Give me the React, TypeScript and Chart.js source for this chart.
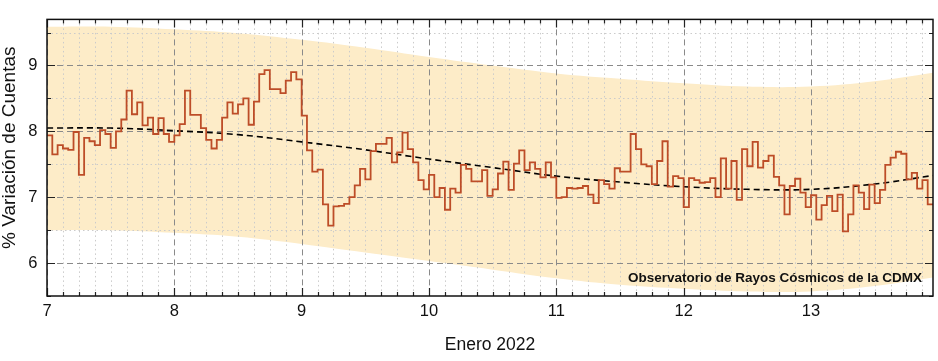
import React, { useEffect, useRef } from 'react';
import { Chart, registerables } from 'chart.js';

Chart.register(...registerables);

// Hourly % variation of counts, starting at 7 Jan 2022 00:00
const startDay = 7;
const hoursPerDay = 24;
const counts = [
  7.94, 7.65, 7.79, 7.74, 7.72, 7.99, 7.34, 7.90, 7.85, 7.79, 8.02, 7.96,
  7.75, 8.00, 8.18, 8.62, 8.26, 8.44, 8.09, 8.21, 7.96, 8.20, 7.96, 7.84,
  7.94, 8.11, 8.62, 8.25, 8.25, 8.05, 7.87, 7.74, 7.87, 8.21, 8.44, 8.27,
  8.41, 8.50, 8.10, 8.45, 8.87, 8.93, 8.64, 8.64, 8.58, 8.77, 8.90, 8.79,
  8.24, 7.71, 7.39, 7.42, 6.89, 6.57, 6.86, 6.87, 6.90, 7.00, 7.18, 7.43,
  7.27, 7.70, 7.81, 7.81, 7.90, 7.53, 7.68, 7.98, 7.73, 7.53, 7.26, 7.12,
  7.34, 7.00, 7.14, 6.81, 7.13, 7.07, 7.49, 7.43, 7.24, 7.24, 7.41, 7.02,
  7.12, 7.36, 7.54, 7.11, 7.51, 7.71, 7.41, 7.53, 7.43, 7.30, 7.53, 7.30,
  6.99, 7.00, 7.14, 7.13, 7.14, 7.17, 7.04, 6.91, 7.26, 7.20, 7.13, 7.44,
  7.39, 7.39, 7.96, 7.73, 7.50, 7.47, 7.20, 7.55, 7.85, 7.16, 7.32, 7.29,
  6.85, 7.29, 7.26, 7.22, 7.23, 7.29, 7.00, 7.59, 7.13, 7.55, 6.96, 7.73,
  7.47, 7.84, 7.45, 7.55, 7.63, 7.31, 7.18, 6.74, 7.17, 7.28, 7.07, 6.85,
  7.03, 6.66, 6.88, 7.02, 6.79, 7.04, 6.48, 6.74, 7.18, 7.07, 6.82, 7.19,
  6.91, 7.11, 7.49, 7.60, 7.69, 7.66, 7.27, 7.37, 7.13, 7.26, 6.89, 6.89,
];

// Smooth fit and its band
const curveDays = [7, 7.5, 8, 8.5, 9, 9.5, 10, 10.5, 11, 11.5, 12, 12.5, 13, 13.5, 13.958];
const fitValues = [8.05, 8.05, 8.01, 7.95, 7.84, 7.72, 7.58, 7.45, 7.32, 7.23, 7.16, 7.12, 7.12, 7.20, 7.33];
const bandUpper = [9.59, 9.59, 9.55, 9.49, 9.39, 9.27, 9.13, 9.00, 8.88, 8.80, 8.73, 8.68, 8.68, 8.76, 8.89];
const bandLower = [6.50, 6.50, 6.46, 6.40, 6.29, 6.16, 6.03, 5.90, 5.77, 5.67, 5.61, 5.57, 5.57, 5.65, 5.78];

const xTicks = [7, 8, 9, 10, 11, 12, 13];
const yTicks = [6, 7, 8, 9];
const xMinorStep = 0.125;
const yMinorStep = 0.5;

const xTitle = 'Enero 2022';
const yTitle = '% Variación de Cuentas';
const stationLabel = 'Observatorio de Rayos Cósmicos de la CDMX';

const FONT = '"Liberation Sans", Arial, Helvetica, sans-serif';

const isMajor = (v: number) => Math.abs(v - Math.round(v)) < 1e-6;

const framePlugin = {
  id: 'framePlugin',
  afterDatasetDraw(chart: any, args: any) {
    if (args.index !== 2) return;
    const { ctx, chartArea: a, scales } = chart;
    const x = scales.x;
    const y = scales.y;
    ctx.save();
    ctx.beginPath();
    ctx.rect(a.left, a.top, a.right - a.left, a.bottom - a.top);
    ctx.clip();
    ctx.lineWidth = 1;
    // minor grid
    ctx.strokeStyle = '#cbcbcb';
    ctx.setLineDash([1.5, 3]);
    ctx.beginPath();
    for (let v = x.min; v <= x.max + 1e-9; v += xMinorStep) {
      if (isMajor(v)) continue;
      const px = Math.round(x.getPixelForValue(v)) + 0.5;
      ctx.moveTo(px, a.top);
      ctx.lineTo(px, a.bottom);
    }
    for (let v = Math.ceil(y.min / yMinorStep) * yMinorStep; v <= y.max + 1e-9; v += yMinorStep) {
      if (isMajor(v)) continue;
      const py = Math.round(y.getPixelForValue(v)) + 0.5;
      ctx.moveTo(a.left, py);
      ctx.lineTo(a.right, py);
    }
    ctx.stroke();
    // major grid
    ctx.strokeStyle = '#8a8a8a';
    ctx.setLineDash([6, 4]);
    ctx.beginPath();
    xTicks.forEach((v) => {
      const px = Math.round(x.getPixelForValue(v)) + 0.5;
      ctx.moveTo(px, a.top);
      ctx.lineTo(px, a.bottom);
    });
    yTicks.forEach((v) => {
      const py = Math.round(y.getPixelForValue(v)) + 0.5;
      ctx.moveTo(a.left, py);
      ctx.lineTo(a.right, py);
    });
    ctx.stroke();
    ctx.restore();
  },
  afterDraw(chart: any) {
    const { ctx, chartArea: a, scales } = chart;
    const x = scales.x;
    const y = scales.y;
    ctx.save();
    // tick marks on all four sides
    ctx.strokeStyle = '#222';
    ctx.lineWidth = 1.2;
    ctx.setLineDash([]);
    ctx.beginPath();
    for (let v = x.min; v <= x.max + 1e-9; v += xMinorStep) {
      const len = isMajor(v) ? 8 : 4;
      const px = Math.round(x.getPixelForValue(v)) + 0.5;
      ctx.moveTo(px, a.bottom);
      ctx.lineTo(px, a.bottom - len);
      ctx.moveTo(px, a.top);
      ctx.lineTo(px, a.top + len);
    }
    for (let v = Math.ceil(y.min / yMinorStep) * yMinorStep; v <= y.max + 1e-9; v += yMinorStep) {
      const len = isMajor(v) ? 8 : 4;
      const py = Math.round(y.getPixelForValue(v)) + 0.5;
      ctx.moveTo(a.left, py);
      ctx.lineTo(a.left + len, py);
      ctx.moveTo(a.right, py);
      ctx.lineTo(a.right - len, py);
    }
    ctx.stroke();
    // frame
    ctx.strokeStyle = '#111';
    ctx.lineWidth = 1.5;
    ctx.strokeRect(a.left, a.top, a.right - a.left, a.bottom - a.top);

    // station label
    ctx.fillStyle = '#111';
    ctx.font = `bold 13.5px ${FONT}`;
    ctx.textAlign = 'right';
    ctx.textBaseline = 'alphabetic';
    ctx.fillText(stationLabel, a.right - 11, a.bottom - 14);

    // axis titles
    ctx.font = `17.5px ${FONT}`;
    ctx.textAlign = 'center';
    ctx.textBaseline = 'middle';
    ctx.fillStyle = '#111';
    ctx.fillText(xTitle, (a.left + a.right) / 2, 345);

    ctx.save();
    ctx.translate(10, (a.top + a.bottom) / 2 - 10);
    ctx.rotate(-Math.PI / 2);
    ctx.font = `19px ${FONT}`;
    ctx.fillText(yTitle, 0, 0);
    ctx.restore();

    ctx.restore();
  },
};

export default function App() {
  const canvasRef = useRef<HTMLCanvasElement | null>(null);

  useEffect(() => {
    document.body.style.margin = '0';
    const canvas = canvasRef.current;
    if (!canvas) return;

    const stepData = counts.map((v, i) => ({ x: startDay + i / hoursPerDay, y: v }));
    const fitData = curveDays.map((d, i) => ({ x: d, y: fitValues[i] }));
    const upperData = curveDays.map((d, i) => ({ x: d, y: bandUpper[i] }));
    const lowerData = curveDays.map((d, i) => ({ x: d, y: bandLower[i] }));
    const xMax = startDay + (counts.length - 1) / hoursPerDay;

    const chart = new Chart(canvas, {
      type: 'line',
      data: {
        datasets: [
          {
            label: 'Variación',
            data: stepData,
            stepped: true,
            borderColor: '#bd4d28',
            borderWidth: 1.8,
            pointRadius: 0,
            fill: false,
          },
          {
            label: 'Ajuste',
            data: fitData,
            borderColor: '#000',
            borderWidth: 1.6,
            borderDash: [6, 4],
            pointRadius: 0,
            tension: 0.4,
            fill: false,
          },
          {
            label: 'Banda superior',
            data: upperData,
            borderWidth: 0,
            borderColor: 'rgba(0,0,0,0)',
            backgroundColor: '#fdecc8',
            pointRadius: 0,
            tension: 0.4,
            fill: '+1',
          },
          {
            label: 'Banda inferior',
            data: lowerData,
            borderWidth: 0,
            borderColor: 'rgba(0,0,0,0)',
            pointRadius: 0,
            tension: 0.4,
            fill: false,
          },
        ],
      },
      options: {
        responsive: false,
        animation: false,
        devicePixelRatio: 1,
        layout: { padding: { left: 0, right: 5, top: 13, bottom: 0 } },
        plugins: {
          legend: { display: false },
          tooltip: { enabled: false },
          title: { display: false },
        },
        scales: {
          x: {
            type: 'linear',
            min: startDay,
            max: xMax,
            afterBuildTicks: (scale: any) => {
              scale.ticks = xTicks.map((v) => ({ value: v }));
            },
            afterFit: (scale: any) => {
              scale.height = 65;
            },
            grid: { display: false, drawTicks: false },
            border: { display: false },
            ticks: {
              padding: 6,
              color: '#111',
              font: { family: FONT, size: 16.5 },
              maxRotation: 0,
              autoSkip: false,
              callback: (v: any) => String(v),
            },
          },
          y: {
            type: 'linear',
            min: 5.5,
            max: 9.7,
            afterBuildTicks: (scale: any) => {
              scale.ticks = yTicks.map((v) => ({ value: v }));
            },
            afterFit: (scale: any) => {
              scale.width = 47;
            },
            grid: { display: false, drawTicks: false },
            border: { display: false },
            ticks: {
              padding: 9.5,
              color: '#111',
              font: { family: FONT, size: 16.5 },
              autoSkip: false,
              callback: (v: any) => String(v),
            },
          },
        },
      },
      plugins: [framePlugin],
    });

    return () => {
      chart.destroy();
    };
  }, []);

  return (
    <canvas
      ref={canvasRef}
      width={938}
      height={361}
      style={{ display: 'block', width: '938px', height: '361px' }}
    />
  );
}
